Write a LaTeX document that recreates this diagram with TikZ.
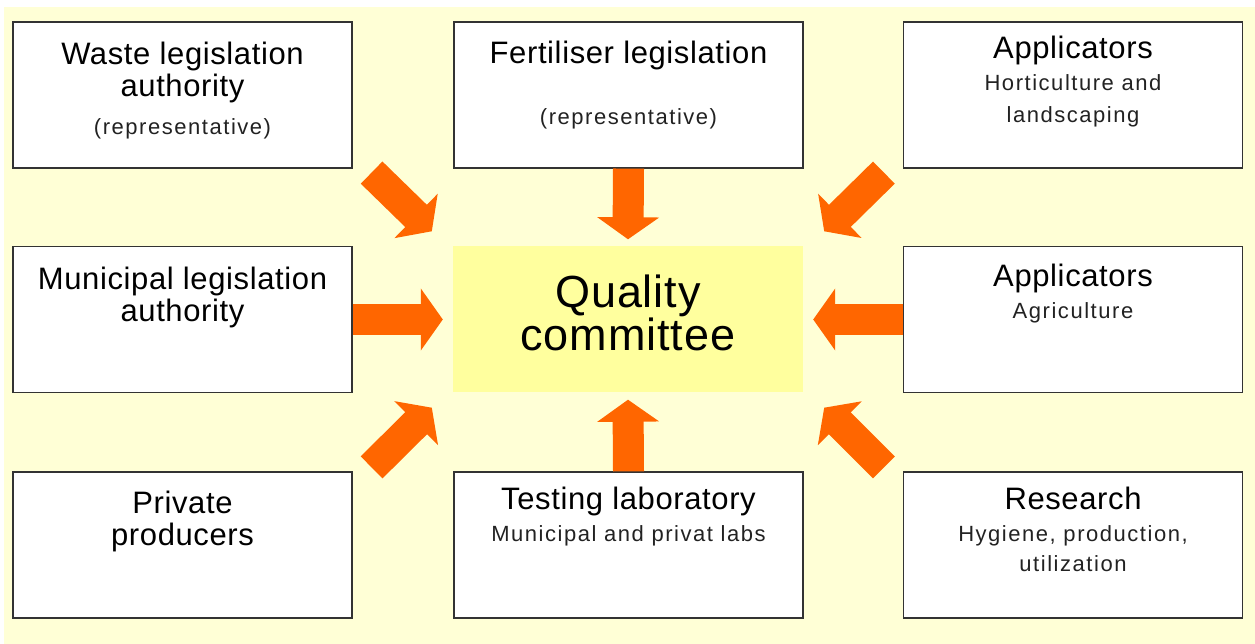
\documentclass[tikz,border=0pt]{standalone}
\usepackage{fontspec}
\setmainfont{Liberation Sans}
\newfontfamily\headfamily[LetterSpace=2]{Liberation Sans}
\newfontfamily\subfamily[LetterSpace=7]{Liberation Sans}
\usetikzlibrary{arrows.meta,positioning}

\definecolor{paper}{HTML}{FFFFD6}
\definecolor{hubfill}{HTML}{FFFF9E}
\definecolor{boxline}{HTML}{333333}
\definecolor{flow}{HTML}{FF6600}
\definecolor{subtext}{HTML}{222222}

\newcommand{\sub}[1]{{\subfamily\fontsize{22}{30}\selectfont\color{subtext}#1}}

\tikzset{
  member/.style={draw=boxline, line width=1.2pt, fill=white, inner sep=0pt,
                 minimum width=339pt, minimum height=146pt},
  wide/.style={minimum width=349pt},
  hub/.style={fill=hubfill, inner sep=0pt, minimum width=350pt, minimum height=146pt},
  title/.style={font=\headfamily\fontsize{31}{32}\selectfont, align=center, anchor=north, inner sep=0pt},
  bigarrow/.style={draw=flow, line width=31pt, -{Triangle[length=22pt,width=61pt]}},
}

\begin{document}
\begin{tikzpicture}[x=1pt,y=1pt]
    \useasboundingbox (0,0) rectangle (1255,644);
    \fill[paper] (4,0) rectangle (1255,637);

    % boxes
    \node[member]      (waste) at (182.5,549) {};
    \node[member,wide] (fert)  at (628.5,549) {};
    \node[member]      (hort)  at (1073,549)  {};
    \node[member]      (muni)  at (182.5,324.5) {};
    \node[hub]         (qc)    at (628,324.5) {};
    \node[member]      (agri)  at (1073,324.5) {};
    \node[member]      (priv)  at (182.5,99) {};
    \node[member,wide] (lab)   at (628.5,99) {};
    \node[member]      (res)   at (1073,99)  {};

    % texts
    \node[title] (waste-t) at ([yshift=-20pt]waste.north) {Waste legislation\\authority\\[6pt]\sub{(representative)}};
    \node[title] (fert-t)  at ([yshift=-19pt]fert.north)  {Fertiliser legislation\\[29pt]\sub{(representative)}};
    \node[title] (hort-t)  at ([yshift=-14pt]hort.north)  {Applicators\\\sub{Horticulture and}\\\sub{landscaping}};
    \node[title] (muni-t)  at ([yshift=-21pt]muni.north)  {Municipal legislation\\authority};
    \node[title] (qc-t)    at ([yshift=-28pt]qc.north)    {\fontsize{45}{47}\selectfont Quality\\\fontsize{45}{47}\selectfont committee};
    \node[title] (agri-t)  at ([yshift=-18pt]agri.north)  {Applicators\\\sub{Agriculture}};
    \node[title] (priv-t)  at ([yshift=-19pt]priv.north)  {Private\\producers};
    \node[title] (lab-t)   at ([yshift=-15pt]lab.north)   {Testing laboratory\\\sub{Municipal and privat labs}};
    \node[title] (res-t)   at ([yshift=-15pt]res.north)   {Research\\\sub{Hygiene, production,}\\[-2pt]\sub{utilization}};

    % arrows into the committee
    \draw[bigarrow] (fert.south) -- ([yshift=7pt]qc.north);
    \draw[bigarrow] (lab.north) -- ([yshift=-7pt]qc.south);
    \draw[bigarrow] (muni.east) -- ([xshift=-10pt]qc.west);
    \draw[bigarrow] (agri.west) -- ([xshift=10pt]qc.east);
    \draw[bigarrow] ([shift={(19pt,-4pt)}]waste.south east) -- ([shift={(-21pt,15pt)}]qc.north west);
    \draw[bigarrow] ([shift={(-19pt,-4pt)}]hort.south west) -- ([shift={(21pt,15pt)}]qc.north east);
    \draw[bigarrow] ([shift={(19pt,4pt)}]priv.north east) -- ([shift={(-21pt,-15pt)}]qc.south west);
    \draw[bigarrow] ([shift={(-19pt,4pt)}]res.north west) -- ([shift={(21pt,-15pt)}]qc.south east);
\end{tikzpicture}
\end{document}
